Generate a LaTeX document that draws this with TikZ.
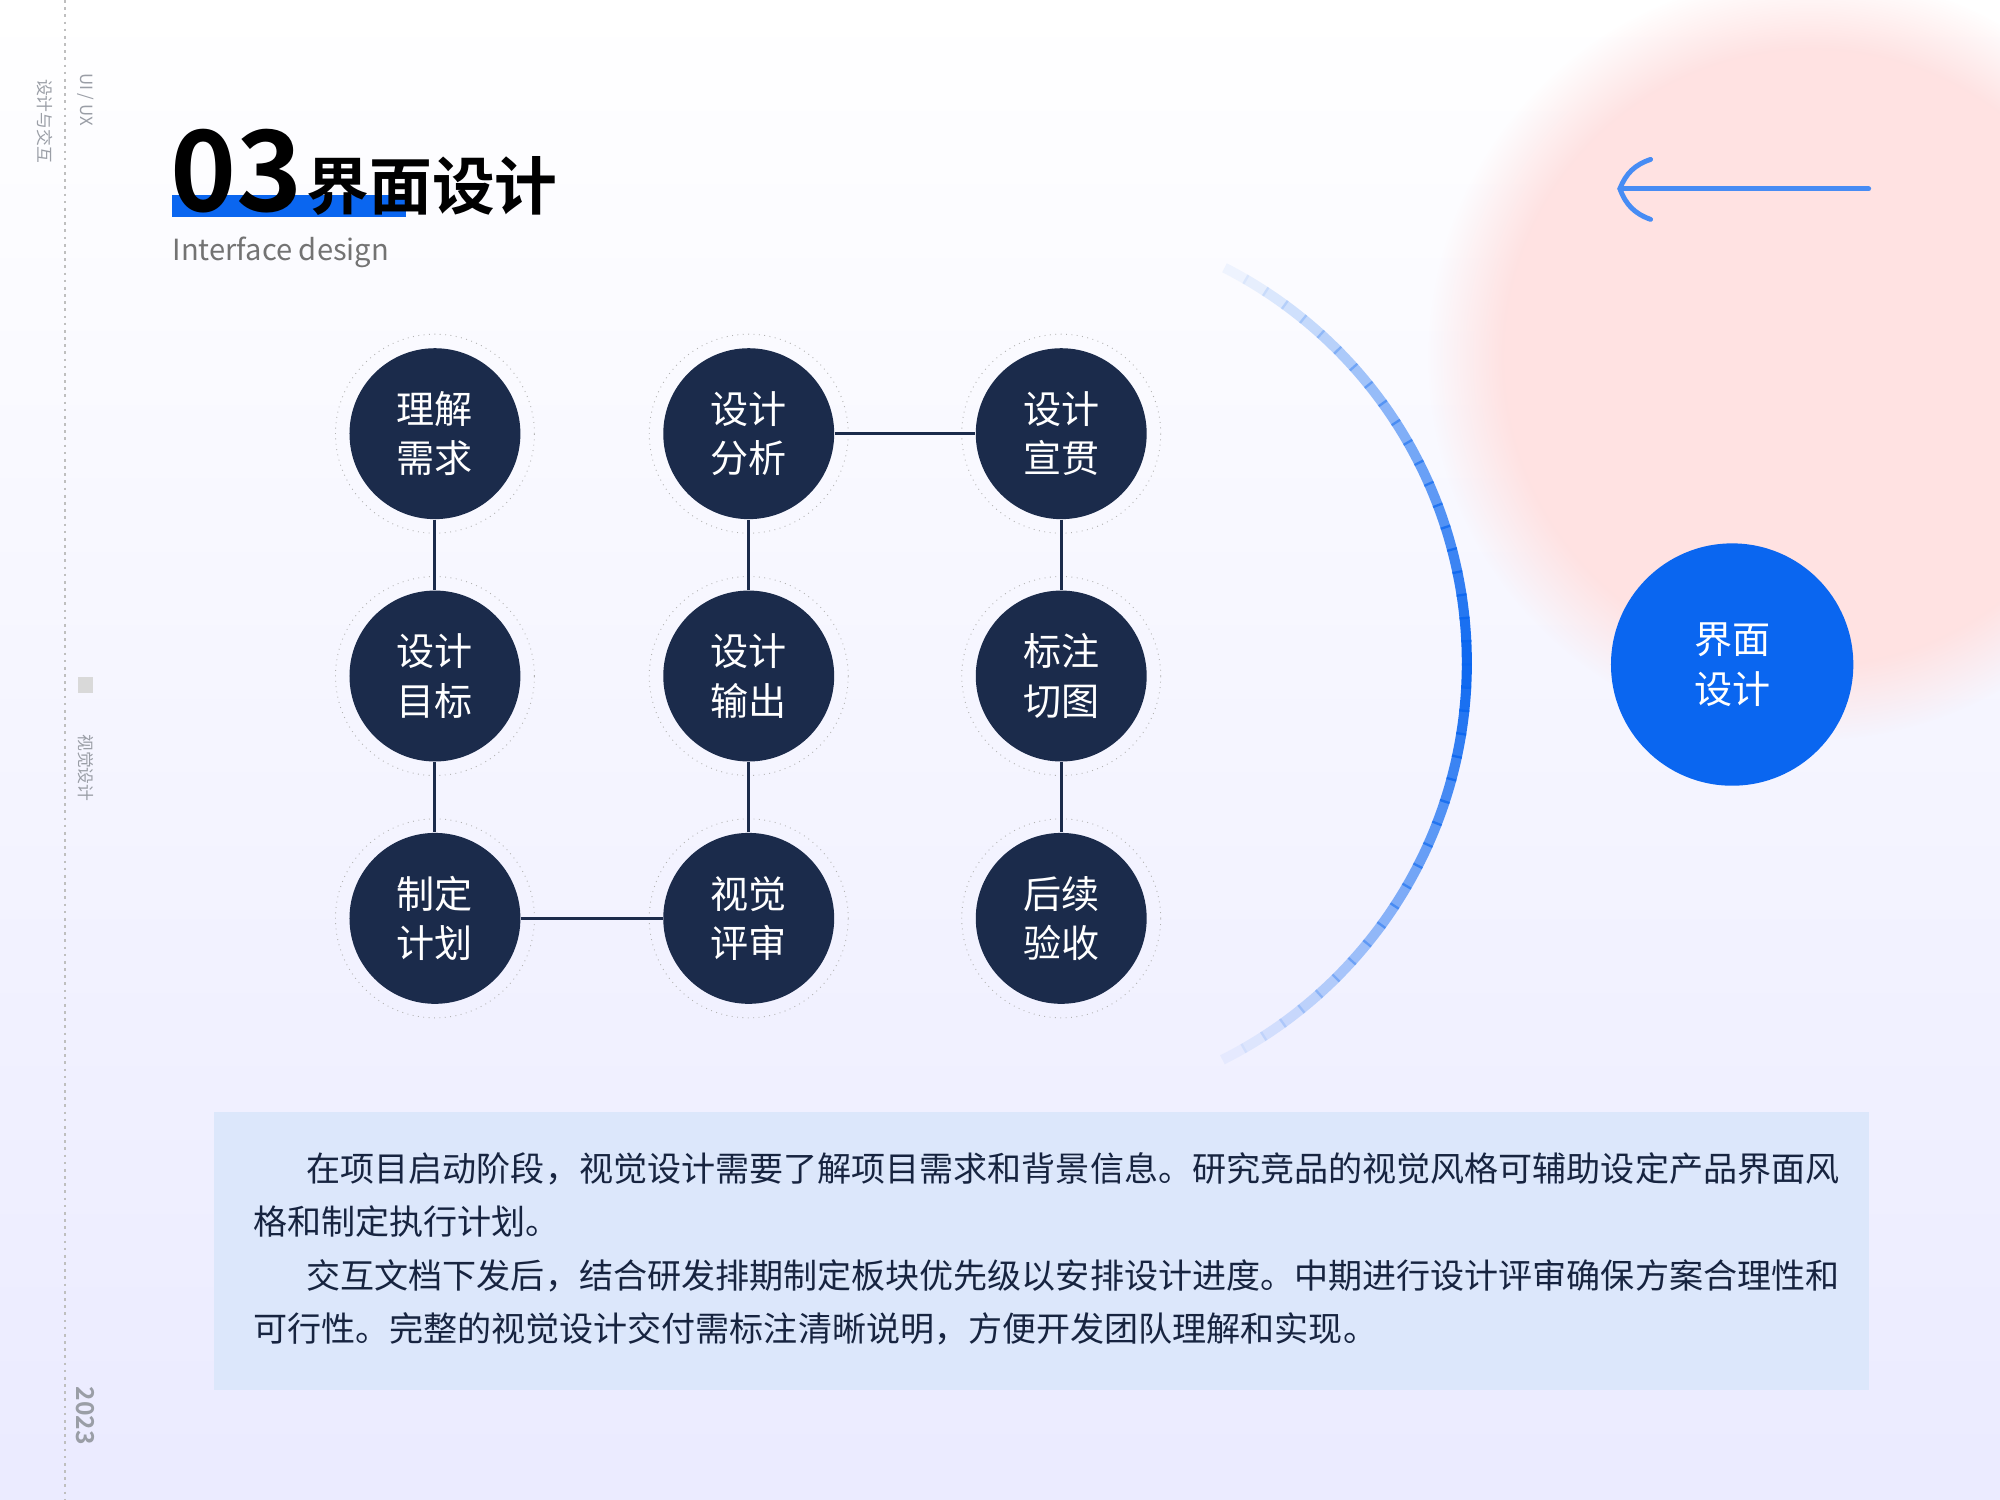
\documentclass[tikz,border=0pt]{standalone}
\usepackage{fontspec}
\setmainfont{Noto Sans CJK SC}[BoldFont={Noto Sans CJK SC Bold}]
\usetikzlibrary{fadings}
\definecolor{navy}{HTML}{1B2B4B}
\definecolor{mainblue}{HTML}{0A66F0}
\definecolor{boxblue}{HTML}{DCE7FB}
\definecolor{sidegray}{HTML}{9A9EA6}
\tikzset{
  step circle/.style={circle,fill=navy,minimum size=134*0.02cm,text=white,
    font=\fontsize{17}{22}\selectfont,align=center,inner sep=0pt},
  ring/.style={circle,draw=gray!60,dotted,minimum size=156*0.02cm},
  link/.style={navy,line width=1.3pt},
  side text/.style={rotate=-90,text=sidegray,font=\fontsize{7.5}{9}\selectfont},
  body text/.style={anchor=west,inner sep=0pt,text=navy!85!black,font=\fontsize{15.2}{18}\selectfont}
}
\begin{document}
\begin{tikzpicture}[x=0.02cm,y=-0.02cm]
  \useasboundingbox (0,0) rectangle (1568,1176);
  % background
  \shade[top color=white,bottom color=blue!8] (0,0) rectangle (1568,1176);
  \fill[pink!45,path fading=circle with fuzzy edge 20 percent] (1420,280) circle (300);
  % side bar
  \draw[gray!50,dotted,line width=1.2pt] (51,0) -- (51,1176);
  \node[side text] (ux) at (67,78) {UI / UX};
  \node[side text] (inter) at (35,95) {设计与交互};
  \node[fill=gray!30,minimum size=12*0.02cm,inner sep=0pt] (sq) at (67,537) {};
  \node[side text] (visual) at (67,602) {视觉设计};
  \node[side text,font=\fontsize{11}{12}\selectfont\bfseries] (year) at (67,1110) {2023};
  % title
  \fill[mainblue] (135,153) rectangle (318,170);
  \node[anchor=base west,inner sep=0pt,font=\fontsize{50}{50}\selectfont\bfseries] (num) at (133,166) {03};
  \node[anchor=base west,inner sep=0pt,font=\fontsize{28}{30}\selectfont\bfseries] (title) at (240,164) {界面设计};
  \node[anchor=base west,inner sep=0pt,text=gray!90!black,font=\fontsize{13}{15}\selectfont] (sub) at (135,204) {Interface design};
  % arrow
  \coordinate (arrS) at (1465,148);
  \coordinate (arrE) at (1270,148);
  \draw[mainblue!75,line width=2.2pt,line cap=round] (arrS) -- (arrE);
  \draw[mainblue!75,line width=2.2pt,line cap=round] (1294,125) to[bend right=25] (arrE) to[bend right=25] (1294,172);
  % arc
  \foreach \a in {-63,-60,...,60}{
    \pgfmathsetmacro{\op}{max(0.05,1-abs(\a+1.5)/64)}
    \draw[mainblue,line width=4.5pt,opacity=\op] ([shift={(\a:348)}]802,520) arc (\a:\a+3.3:348);
  }
  % steps
  \foreach \name/\x/\y/\txt in {
      a/341/340/{理解\\需求}, b/341/530/{设计\\目标}, c/341/720/{制定\\计划},
      d/587/340/{设计\\分析}, e/587/530/{设计\\输出}, f/587/720/{视觉\\评审},
      g/832/340/{设计\\宣贯}, h/832/530/{标注\\切图}, i/832/720/{后续\\验收}}{
    \node[ring] (r\name) at (\x,\y) {};
    \node[step circle] (\name) at (\x,\y) {\txt};
  }
  \draw[link] (a) -- (b);
  \draw[link] (b) -- (c);
  \draw[link] (c) -- (f);
  \draw[link] (f) -- (e);
  \draw[link] (e) -- (d);
  \draw[link] (d) -- (g);
  \draw[link] (g) -- (h);
  \draw[link] (h) -- (i);
  % goal
  \node[circle,fill=mainblue,minimum size=190*0.02cm,text=white,align=center,
    font=\fontsize{17}{22}\selectfont] (goal) at (1358,521) {界面\\设计};
  % text box
  \fill[boxblue] (168,872) rectangle (1465,1090);
  \node[body text] (l1) at (240,916) {在项目启动阶段，视觉设计需要了解项目需求和背景信息。研究竞品的视觉风格可辅助设定产品界面风};
  \node[body text] (l2) at (198,958) {格和制定执行计划。};
  \node[body text] (l3) at (240,1000) {交互文档下发后，结合研发排期制定板块优先级以安排设计进度。中期进行设计评审确保方案合理性和};
  \node[body text] (l4) at (198,1042) {可行性。完整的视觉设计交付需标注清晰说明，方便开发团队理解和实现。};
\end{tikzpicture}
\end{document}
